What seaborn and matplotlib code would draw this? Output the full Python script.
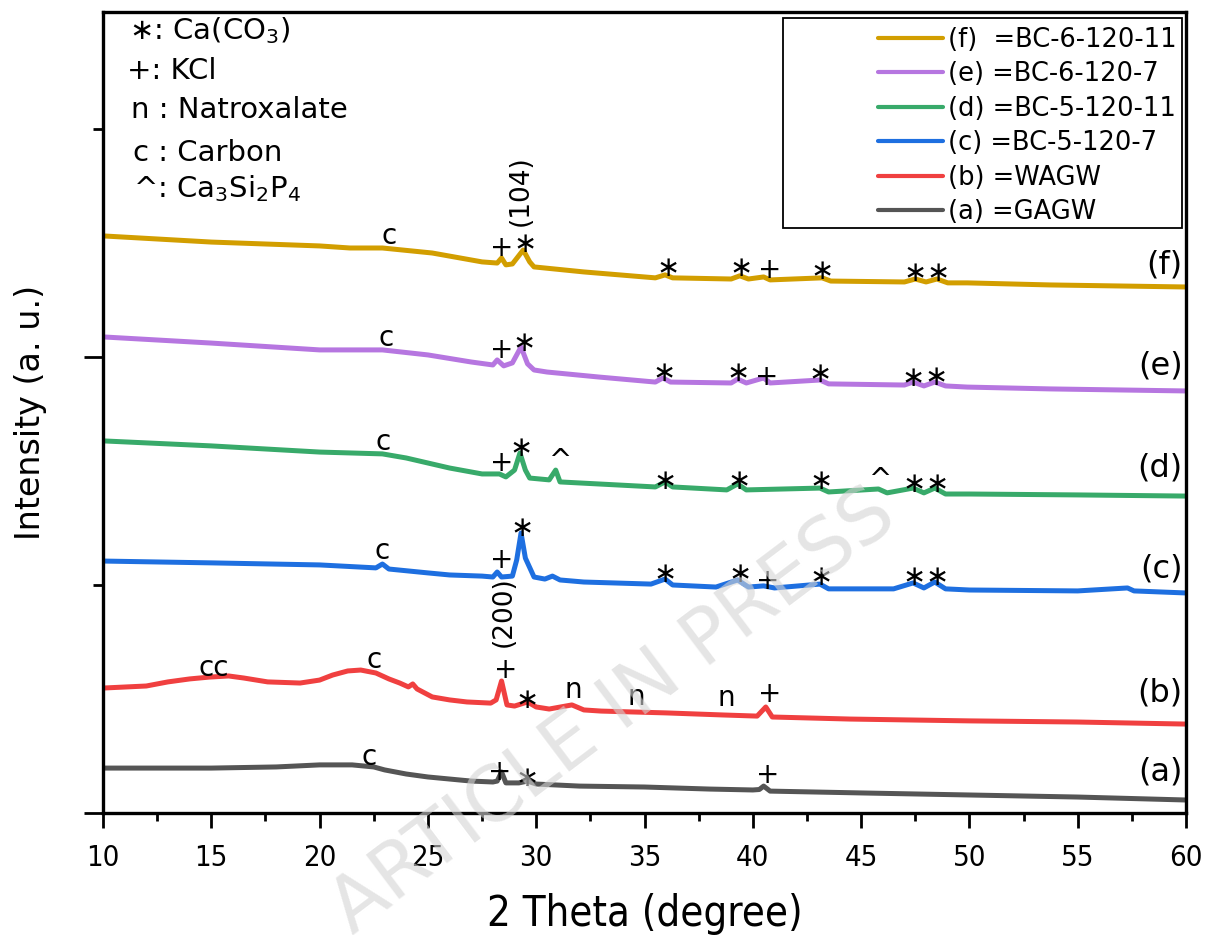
import numpy as np
import pandas as pd
import matplotlib
matplotlib.use("Agg")
import matplotlib.pyplot as plt
import seaborn as sns
from matplotlib.ticker import MultipleLocator
from matplotlib.patches import Rectangle

sns.set_theme(style="ticks")
plt.rcParams['font.family'] = ['DejaVu Sans']
plt.rcParams['mathtext.fontset'] = 'dejavusans'
plt.rcParams['text.color'] = 'black'
plt.rcParams['axes.labelcolor'] = 'black'
plt.rcParams['xtick.color'] = 'black'
plt.rcParams['ytick.color'] = 'black'

# ---------------- data (2 theta in degree, intensity in a.u., stacked) ----------------
two_theta_a = [10, 15, 18, 20, 21.5, 22.5, 23, 24, 25, 26, 27, 28, 28.2, 28.4, 28.6, 29.2, 29.6, 30, 32, 35, 38, 40, 40.3, 40.5, 40.8, 45, 50, 55, 60]
int_a = [197, 197, 202, 211, 211, 202, 189, 171, 158, 149, 140, 136, 140, 180, 132, 132, 140, 127, 118, 114, 105, 101, 103, 118, 96, 88, 79, 70, 57]

two_theta_b = [10, 12, 13, 14, 14.9, 15.8, 16.5, 17.6, 19.1, 20, 20.6, 21.3, 21.9, 22.6, 23.2, 23.7, 24.1, 24.3, 24.5, 25.2, 26, 26.8, 27.9, 28.15, 28.4, 28.65, 29.0, 29.6, 30.0, 30.6, 31.65, 32.2, 33, 34.5, 36, 38.6, 40.2, 40.6, 40.9, 44.5, 50, 55, 60]
int_b = [548, 557, 575, 588, 596, 601, 592, 575, 570, 583, 605, 623, 627, 614, 588, 570, 553, 566, 544, 509, 496, 487, 482, 496, 579, 474, 469, 487, 465, 456, 474, 452, 447, 443, 439, 430, 425, 465, 421, 412, 404, 399, 390]

two_theta_c = [10, 15, 20, 22.6, 22.9, 23.2, 25, 26, 27.5, 28.0, 28.2, 28.4, 28.9, 29.1, 29.3, 29.5, 29.9, 30.4, 30.75, 31.1, 32.2, 35.3, 35.95, 36.3, 38.3, 39.3, 39.8, 40.5, 41, 43.1, 43.5, 46.5, 47.4, 47.9, 48.4, 48.9, 50, 55, 57.3, 57.6, 60]
int_c = [1105, 1097, 1088, 1075, 1092, 1070, 1053, 1044, 1039, 1035, 1057, 1035, 1039, 1110, 1228, 1118, 1035, 1026, 1039, 1022, 1013, 1004, 1026, 1000, 991, 1022, 991, 996, 987, 1004, 983, 983, 1009, 987, 1013, 983, 978, 974, 987, 974, 965]

two_theta_d = [10, 15, 20, 22.9, 24, 25, 26, 27.5, 28.3, 28.6, 29.0, 29.25, 29.5, 29.7, 30.6, 30.9, 31.1, 33.7, 35.5, 35.95, 36.3, 38.8, 39.3, 39.7, 43.1, 43.5, 45.8, 46.2, 47.4, 47.9, 48.4, 48.9, 50, 55, 60]
int_d = [1632, 1610, 1583, 1575, 1557, 1535, 1513, 1487, 1487, 1474, 1504, 1579, 1504, 1469, 1461, 1504, 1452, 1439, 1430, 1452, 1430, 1417, 1443, 1417, 1425, 1408, 1421, 1404, 1425, 1404, 1425, 1399, 1399, 1395, 1390]

two_theta_e = [10, 15, 20, 22.9, 25, 27, 28.0, 28.2, 28.5, 28.9, 29.3, 29.6, 29.9, 30.5, 32.9, 35.5, 35.85, 36.2, 39.0, 39.3, 39.7, 40.5, 40.8, 43.1, 43.5, 47.0, 47.4, 47.9, 48.4, 48.9, 49.9, 53.7, 60]
int_e = [2088, 2061, 2031, 2031, 2009, 1978, 1965, 1987, 1961, 1974, 2044, 1970, 1943, 1934, 1912, 1890, 1908, 1890, 1886, 1903, 1886, 1908, 1886, 1899, 1882, 1877, 1890, 1873, 1890, 1873, 1868, 1860, 1851]

two_theta_f = [10, 15, 20, 21.4, 22.9, 25.2, 27.5, 28.2, 28.4, 28.6, 28.9, 29.4, 29.7, 29.9, 32.2, 35.5, 35.95, 36.3, 39.0, 39.4, 39.8, 40.5, 40.8, 43.2, 43.6, 47.0, 47.5, 48.0, 48.5, 49.0, 49.9, 53.7, 60]
int_f = [2531, 2504, 2487, 2478, 2478, 2456, 2417, 2412, 2434, 2404, 2408, 2469, 2417, 2395, 2373, 2347, 2360, 2347, 2342, 2356, 2342, 2351, 2338, 2347, 2333, 2329, 2342, 2329, 2342, 2325, 2325, 2316, 2307]

series_names = ["(f)  =BC-6-120-11", "(e) =BC-6-120-7", "(d) =BC-5-120-11",
                "(c) =BC-5-120-7", "(b) =WAGW", "(a) =GAGW"]
series_tags = ["(f)", "(e)", "(d)", "(c)", "(b)", "(a)"]
series_colors = ["#D29E00", "#B676E0", "#38AA6A", "#1E6FE0", "#F04040", "#555555"]
series_x = [two_theta_f, two_theta_e, two_theta_d, two_theta_c, two_theta_b, two_theta_a]
series_y = [int_f, int_e, int_d, int_c, int_b, int_a]
tag_y = [2334, 1894, 1444, 1004, 459, 114]

# phase markers per series: 2theta, height, symbol
marker_x = {
    "(a)": [22.3, 28.3, 29.6, 40.7],
    "(b)": [15.1, 22.5, 28.6, 29.6, 31.7, 34.6, 38.8, 40.8],
    "(c)": [22.9, 28.4, 29.35, 35.95, 39.4, 40.7, 43.15, 47.45, 48.5],
    "(d)": [22.95, 28.4, 29.3, 31.1, 35.95, 39.35, 43.15, 45.85, 47.45, 48.5],
    "(e)": [23.05, 28.4, 29.45, 35.9, 39.3, 40.65, 43.1, 47.4, 48.45],
    "(f)": [23.2, 28.4, 29.5, 36.1, 39.45, 40.8, 43.2, 47.5, 48.55],
}
marker_y = {
    "(a)": [246, 180, 153, 167],
    "(b)": [636, 671, 627, 496, 539, 509, 504, 522],
    "(c)": [1149, 1110, 1250, 1048, 1048, 1017, 1035, 1035, 1035],
    "(d)": [1627, 1535, 1601, 1544, 1456, 1456, 1456, 1461, 1443, 1443],
    "(e)": [2083, 2031, 2061, 1930, 1930, 1912, 1925, 1908, 1912],
    "(f)": [2531, 2478, 2496, 2390, 2390, 2381, 2377, 2368, 2368],
}
marker_txt = {
    "(a)": ["c", "+", "∗", "+"],
    "(b)": ["cc", "c", "+", "∗", "n", "n", "n", "+"],
    "(c)": ["c", "+", "∗", "∗", "∗", "+", "∗", "∗", "∗"],
    "(d)": ["c", "+", "∗", "^", "∗", "∗", "∗", "^", "∗", "∗"],
    "(e)": ["c", "+", "∗", "∗", "∗", "+", "∗", "∗", "∗"],
    "(f)": ["c", "+", "∗", "∗", "∗", "+", "∗", "∗", "∗"],
}

phase_key = ["∗: Ca(CO$_3$)", "+: KCl", "n : Natroxalate", "c : Carbon", r"^: Ca$_3$Si$_2$P$_4$"]

# ---------------- figure ----------------
fig = plt.figure(figsize=(12.11, 9.35), dpi=100)
ax = fig.add_axes([103 / 1211, 1 - 813 / 935, (1186 - 103) / 1211, (813 - 12) / 935])

for name, xs, ys, col in zip(series_names, series_x, series_y, series_colors):
    df = pd.DataFrame({"2theta": xs, "I": ys})
    sns.lineplot(data=df, x="2theta", y="I", color=col, lw=3.6, ax=ax, label=name,
                 sort=False, estimator=None)

ax.set_xlim(10, 60)
ax.set_ylim(0, 3513)
ax.xaxis.set_major_locator(MultipleLocator(5))
ax.xaxis.set_minor_locator(MultipleLocator(2.5))
ax.yaxis.set_major_locator(MultipleLocator(2000))
ax.yaxis.set_minor_locator(MultipleLocator(1000))
ax.set_yticklabels([])
ax.tick_params(axis="x", which="major", direction="out", length=11, width=2.0, pad=11,
               labelsize=21)
ax.tick_params(axis="x", which="minor", direction="out", length=6, width=2.0)
ax.tick_params(axis="y", which="major", direction="out", length=14, width=2.0)
ax.tick_params(axis="y", which="minor", direction="out", length=7, width=2.0)
for sp in ax.spines.values():
    sp.set_linewidth(2.4)
    sp.set_color("black")
cond = ["DejaVu Sans Condensed", "Liberation Sans Narrow", "DejaVu Sans"]
for lab in ax.get_xticklabels():
    lab.set_family(cond)
    lab.set_stretch("condensed")

ax.set_xlabel("2 Theta (degree)", fontsize=30, family=cond, stretch="condensed")
ax.xaxis.set_label_coords(0.5, -0.100)
ax.xaxis.label.set_va("top")
ax.set_ylabel("Intensity (a. u.)", fontsize=24)
ax.yaxis.set_label_coords(-0.052, 0.5)

# phase markers
for tag in series_tags:
    for xx, yy, tt in zip(marker_x[tag], marker_y[tag], marker_txt[tag]):
        ax.text(xx, yy, tt, fontsize=20, ha="center", va="center", color="black")
# Miller indices
ax.text(29.3, 2575, "(104)", rotation=90, fontsize=19, ha="center", va="bottom")
ax.text(28.5, 885, "(200)", rotation=90, fontsize=19, ha="center", va="center")

# series tags on the right
for tag, ty in zip(series_tags, tag_y):
    ax.text(59.85, ty, tag, fontsize=23, ha="right", va="bottom")

# phase key (top left)
key_y = [3430, 3255, 3085, 2895, 2740]
key_x = [11.2, 11.1, 11.3, 11.4, 11.4]
for kx, ky, kt in zip(key_x, key_y, phase_key):
    ax.text(kx, ky, kt, fontsize=21, ha="left", va="center")

# legend
leg = ax.legend(loc="upper right", bbox_to_anchor=(0.9965, 0.988), frameon=False,
                fontsize=18.5, handlelength=2.55, handletextpad=0.2, labelspacing=0.33,
                borderaxespad=0.0, borderpad=0.2)
for line in leg.get_lines():
    line.set_linewidth(3.0)
for t in leg.get_texts():
    t.set_color("black")
ax.add_patch(Rectangle(((783 - 103) / 1083, (813 - 228) / 801),
                       (1182 - 783) / 1083, (228 - 18) / 801, transform=ax.transAxes,
                       fill=False, ec="black", lw=1.3, zorder=5))

# watermark
fig.text(614 / 1211, 1 - 712 / 935, "ARTICLE IN PRESS", fontsize=55, color="#d4d4d4",
         alpha=0.6, rotation=37.0, ha="center", va="center", zorder=10)

fig.savefig("out.png", dpi=100)
